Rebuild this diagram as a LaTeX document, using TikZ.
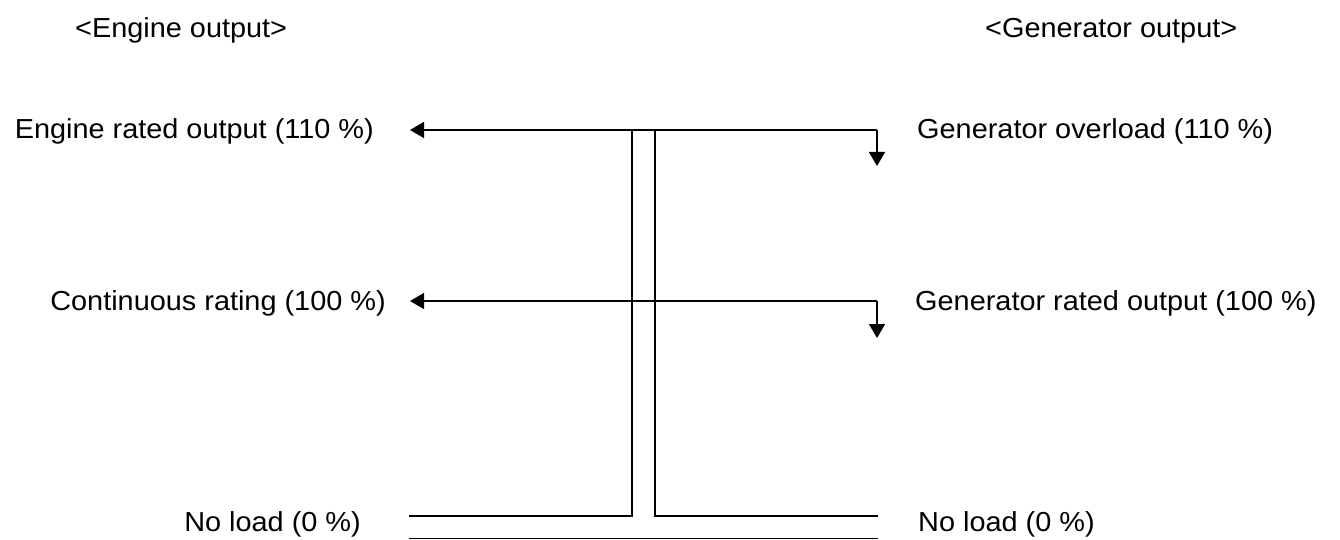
\documentclass[tikz,border=0pt]{standalone}
\usepackage{fontspec}
\setmainfont{Liberation Sans}[FakeStretch=1.05]
\usetikzlibrary{arrows.meta}
\begin{document}
\begin{tikzpicture}[x=1pt,y=-1pt,
  lbl/.style={inner sep=0pt,font=\fontsize{27.5}{32}\selectfont},
  ln/.style={line width=1.6pt},
  arr/.style={ln,-{Triangle[length=14pt,width=16pt]}}]
\useasboundingbox (0,0) rectangle (1340,540);
% headings
\node[lbl,anchor=base west] (he) at (75,38) {<Engine output>};
\node[lbl,anchor=base west] (hg) at (985,38) {<Generator output>};
% left labels
\node[lbl,anchor=base east] (l1) at (374,139) {Engine rated output (110 \%)};
\node[lbl,anchor=base east] (l2) at (386,310) {Continuous rating (100 \%)};
\node[lbl,anchor=base east] (l3) at (361,531) {No load (0 \%)};
% right labels
\node[lbl,anchor=base west] (r1) at (917,139) {Generator overload (110 \%)};
\node[lbl,anchor=base west] (r2) at (915,310) {Generator rated output (100 \%)};
\node[lbl,anchor=base west] (r3) at (918,531) {No load (0 \%)};
% coordinates
\coordinate (aL1) at (410,130);
\coordinate (aR1) at (877,130);
\coordinate (dR1) at (877,166);
\coordinate (aL2) at (410,301);
\coordinate (aR2) at (877,301);
\coordinate (dR2) at (877,338);
\coordinate (vL) at (632,130);
\coordinate (vR) at (655,130);
\coordinate (bL) at (632,516);
\coordinate (bR) at (655,516);
\coordinate (eL) at (409,516);
\coordinate (eR) at (878,516);
\coordinate (gL) at (409,538.5);
\coordinate (gR) at (878,538.5);
% connectors
\draw[arr] (aR1) -- (aL1);
\draw[arr] (aR1) -- (dR1);
\draw[arr] (aR2) -- (aL2);
\draw[arr] (aR2) -- (dR2);
\draw[ln] (vL) -- (bL) -- (eL);
\draw[ln] (vR) -- (bR) -- (eR);
\draw[ln] (gL) -- (gR);
\end{tikzpicture}
\end{document}
